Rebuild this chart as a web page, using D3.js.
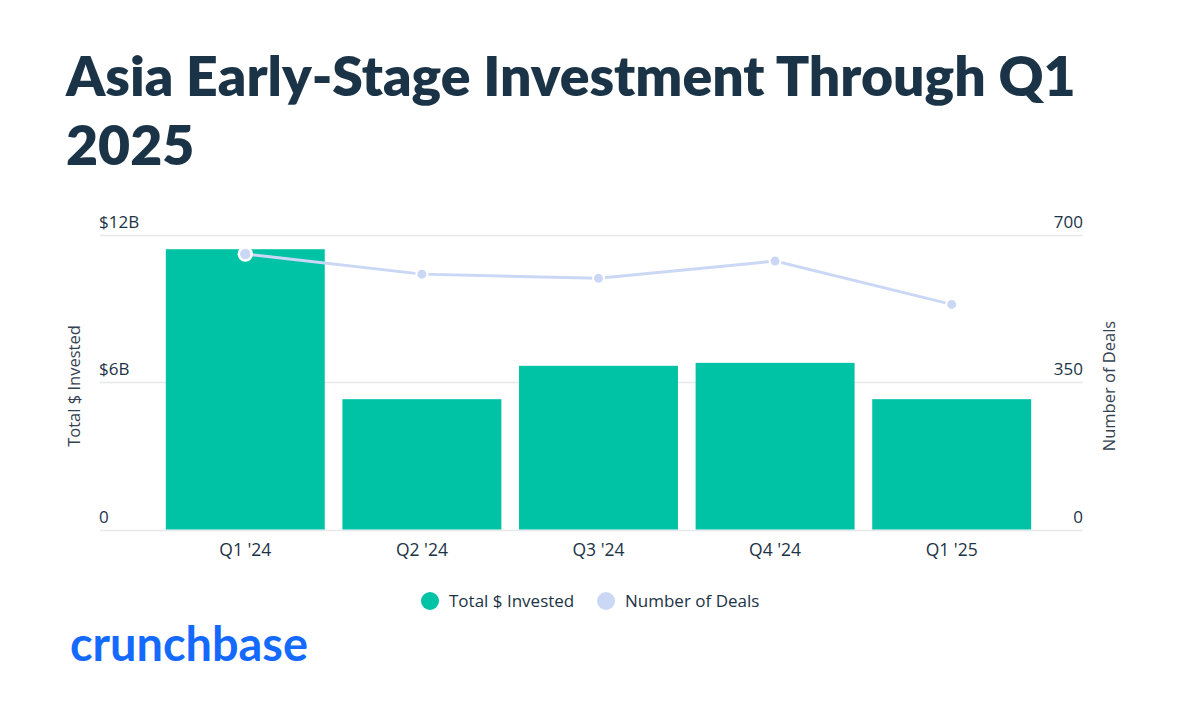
<!DOCTYPE html>
<html>
<head>
<meta charset="utf-8">
<script src="https://cdn.jsdelivr.net/npm/d3@7"></script>
<style>
  body { margin: 0; background: #fff; }
  svg { display: block; }
</style>
</head>
<body>
<div id="chart"></div>
<script>
var W = 1200, H = 724;

// data
var quarters = ["Q1 '24", "Q2 '24", "Q3 '24", "Q4 '24", "Q1 '25"];
var invested = [11.42, 5.31, 6.67, 6.79, 5.31];   // $B
var deals = [655, 607, 597, 638, 535];
var leftTicks = [0, 6, 12];
var rightTicks = [0, 350, 700];
var titleLines = ["Asia Early-Stage Investment Through Q1", "2025"];

var barColor = "#00c2a5";
var lineColor = "#cad8f6";
var ink = "#1b3346";
var titleFont = "Lato, 'Open Sans', sans-serif";
var font = "'Open Sans', Lato, sans-serif";

var svg = d3.select('#chart').append('svg')
  .attr('width', W)
  .attr('height', H)
  .attr('style', 'background-color: white');

// title, sized so the first line spans like the reference
var title = svg.append('g').attr('class', 'title');
titleLines.forEach(function(t, i) {
  title.append('text')
    .attr('x', 66)
    .attr('y', 96 + i * 69)
    .attr('font-family', titleFont)
    .attr('font-weight', 800)
    .attr('font-size', 50)
    .attr('fill', ink)
    .text(t);
});
var firstW = title.select('text').node().getComputedTextLength();
title.selectAll('text').attr('font-size', 50 * 1010 / firstW);

// plot area
var x = d3.scaleBand()
  .domain(quarters)
  .range([157, 1040])
  .paddingInner(0.1)
  .paddingOuter(0.05);

var yL = d3.scaleLinear().domain([0, 12]).range([529.5, 235]);
var yR = d3.scaleLinear().domain([0, 700]).range([529.5, 235]);

// gridlines
svg.append('g').attr('class', 'grid')
  .selectAll('line')
  .data(leftTicks)
  .enter().append('line')
  .attr('x1', 100).attr('x2', 1083)
  .attr('y1', function(d) { return Math.round(yL(d)) + 0.5; })
  .attr('y2', function(d) { return Math.round(yL(d)) + 0.5; })
  .attr('stroke', '#e6e8ec')
  .attr('stroke-width', 1.5);

// left tick labels
svg.append('g').selectAll('text')
  .data(leftTicks)
  .enter().append('text')
  .attr('x', 99)
  .attr('y', function(d) { return yL(d) - 7; })
  .attr('font-family', font)
  .attr('font-size', 17)
  .attr('fill', ink)
  .text(function(d) { return d === 0 ? '0' : '$' + d + 'B'; });

// right tick labels
svg.append('g').selectAll('text')
  .data(rightTicks)
  .enter().append('text')
  .attr('x', 1083)
  .attr('y', function(d) { return yR(d) - 7; })
  .attr('text-anchor', 'end')
  .attr('font-family', font)
  .attr('font-size', 17)
  .attr('fill', ink)
  .text(function(d) { return d; });

// axis titles
svg.append('text')
  .attr('transform', 'translate(80,386) rotate(-90)')
  .attr('text-anchor', 'middle')
  .attr('font-family', font)
  .attr('font-size', 16.5)
  .attr('fill', '#34414f')
  .text('Total $ Invested');

svg.append('text')
  .attr('transform', 'translate(1115,386) rotate(-90)')
  .attr('text-anchor', 'middle')
  .attr('font-family', font)
  .attr('font-size', 16.5)
  .attr('fill', '#34414f')
  .text('Number of Deals');

// bars
svg.append('g').attr('class', 'bars')
  .selectAll('rect')
  .data(invested)
  .enter().append('rect')
  .attr('x', function(d, i) { return x(quarters[i]); })
  .attr('y', function(d) { return yL(d); })
  .attr('width', x.bandwidth())
  .attr('height', function(d) { return yL(0) - yL(d); })
  .attr('fill', barColor);

// x labels
svg.append('g').selectAll('text')
  .data(quarters)
  .enter().append('text')
  .attr('x', function(d) { return x(d) + x.bandwidth() / 2; })
  .attr('y', 556)
  .attr('text-anchor', 'middle')
  .attr('font-family', font)
  .attr('font-size', 17.5)
  .attr('fill', ink)
  .text(function(d) { return d; });

// deals line
var line = d3.line()
  .x(function(d, i) { return x(quarters[i]) + x.bandwidth() / 2; })
  .y(function(d) { return yR(d); });

svg.append('path')
  .datum(deals)
  .attr('d', line)
  .attr('fill', 'none')
  .attr('stroke', lineColor)
  .attr('stroke-width', 3);

svg.append('g').attr('class', 'dots')
  .selectAll('circle')
  .data(deals)
  .enter().append('circle')
  .attr('cx', function(d, i) { return x(quarters[i]) + x.bandwidth() / 2; })
  .attr('cy', function(d) { return yR(d); })
  .attr('r', function(d, i) { return i === 0 ? 6.5 : 5.5; })
  .attr('fill', lineColor)
  .attr('stroke', 'white')
  .attr('stroke-width', function(d, i) { return i === 0 ? 2.5 : 2; });

// legend
var legend = [
  { label: 'Total $ Invested', color: barColor, cx: 430 },
  { label: 'Number of Deals', color: lineColor, cx: 606 }
];
var lg = svg.append('g').selectAll('g')
  .data(legend)
  .enter().append('g');
lg.append('circle')
  .attr('cx', function(d) { return d.cx; })
  .attr('cy', 601)
  .attr('r', 9)
  .attr('fill', function(d) { return d.color; });
lg.append('text')
  .attr('x', function(d) { return d.cx + 19; })
  .attr('y', 607)
  .attr('font-family', font)
  .attr('font-size', 17)
  .attr('fill', ink)
  .text(function(d) { return d.label; });

// crunchbase wordmark
var logo = svg.append('text')
  .attr('x', 70)
  .attr('y', 661)
  .attr('font-family', titleFont)
  .attr('font-weight', 700)
  .attr('font-size', 40)
  .attr('fill', '#146aff')
  .text('crunchbase');
var logoW = logo.node().getComputedTextLength();
logo.attr('font-size', 40 * 238 / logoW);
</script>
</body>
</html>
